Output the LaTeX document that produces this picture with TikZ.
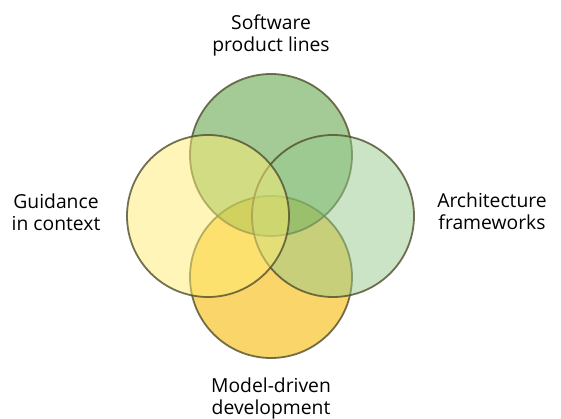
\documentclass[tikz,border=0pt]{standalone}
\usepackage{fontspec}
\setmainfont{Open Sans}
\definecolor{spgreen}{RGB}{75,152,45}
\definecolor{gcyellow}{RGB}{255,237,115}
\definecolor{afgreen}{RGB}{150,202,140}
\definecolor{mdorange}{RGB}{250,213,105}
\definecolor{rimolive}{RGB}{80,78,45}
\begin{document}
\begin{tikzpicture}[x=1pt,y=-1pt,node distance=120pt,
                    every node/.style={font=\fontsize{19.3}{22}\selectfont,align=center}]
  \tikzstyle{area}=[circle,draw=rimolive,draw opacity=0.8,line width=1.8pt,
                    fill opacity=0.5,minimum size=162pt,inner sep=0pt]

  \fill[white] (0,0) rectangle (561,419);
  \useasboundingbox (0,0) rectangle (561,419);

  % bottom one first, the others lie over it
  \node[area,fill=mdorange,fill opacity=1] (ModelDriven)  at (271,277) {};
  \node[area,fill=spgreen]                 (ProductLines) at (271,155) {};
  \node[area,fill=afgreen]                 (Frameworks)   at (333,216) {};
  \node[area,fill=gcyellow]                (Guidance)     at (208,216) {};

  \node (ProductLinesText) [above of=ProductLines]                        {Software\\product lines};
  \node (GuidanceText)     [left of=Guidance,node distance=152pt,yshift=4pt]  {Guidance\\in context};
  \node (FrameworksText)   [right of=Frameworks,node distance=159pt,yshift=5pt] {Architecture\\frameworks};
  \node (ModelDrivenText)  [below of=ModelDriven,node distance=121.5pt]   {Model-driven\\development};
\end{tikzpicture}
\end{document}
